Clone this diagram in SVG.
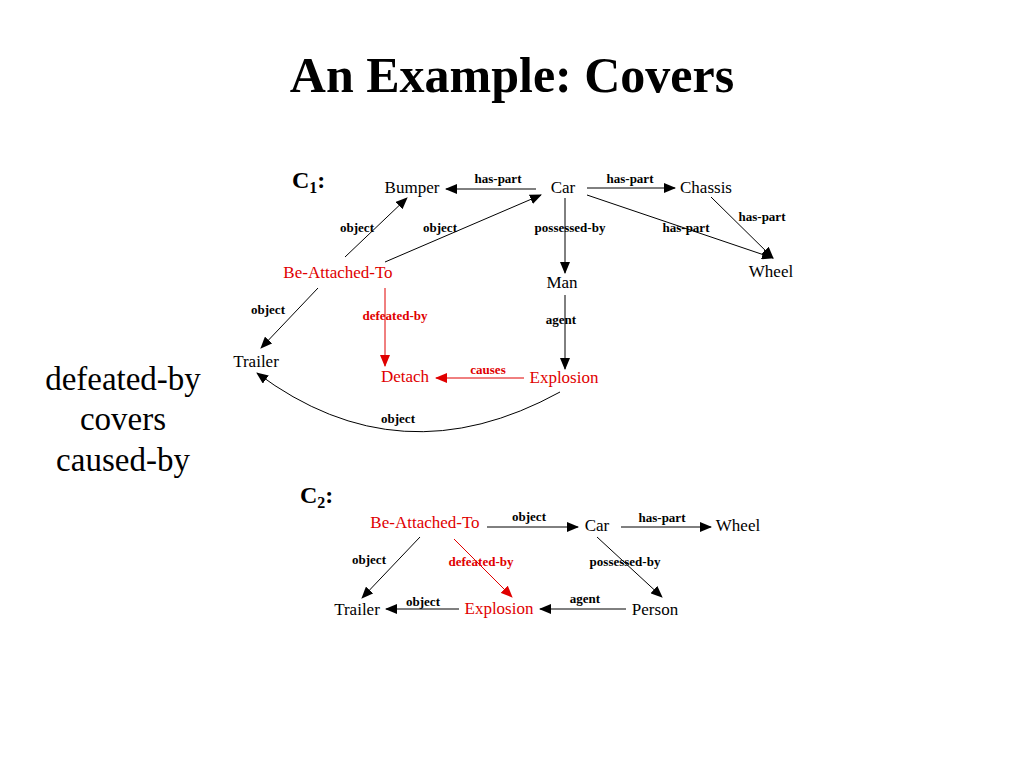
<svg xmlns="http://www.w3.org/2000/svg" width="1024" height="768" viewBox="0 0 1024 768">
<defs>
<marker id="ab" markerUnits="userSpaceOnUse" markerWidth="12" markerHeight="10" refX="11" refY="5" orient="auto"><path d="M0,0 L12,5 L0,10 Z" fill="#000"/></marker>
<marker id="ar" markerUnits="userSpaceOnUse" markerWidth="12" markerHeight="10" refX="11" refY="5" orient="auto"><path d="M0,0 L12,5 L0,10 Z" fill="#e00000"/></marker>
</defs>
<style>
text{font-family:"Liberation Serif","Times New Roman",serif}
.t{font-size:50px;font-weight:bold}
.s{font-size:33px}
.n{font-size:17px}
.r{fill:#e00000}
.l{font-size:13px;font-weight:bold}
.c{font-size:24px;font-weight:bold}
.e{stroke:#000;stroke-width:1;fill:none;marker-end:url(#ab)}
.er{stroke:#e00000;stroke-width:1;fill:none;marker-end:url(#ar)}
</style>
<rect width="1024" height="768" fill="#fff"/>
<text class="t" x="512" y="92" text-anchor="middle">An Example: Covers</text>
<g id="side" class="s" text-anchor="middle">
<text x="123" y="390">defeated-by</text>
<text x="123" y="430">covers</text>
<text x="123" y="471">caused-by</text>
</g>
<text class="c" x="292" y="188">C<tspan font-size="16" dy="5">1</tspan><tspan dy="-5">:</tspan></text>
<text class="c" x="300" y="503">C<tspan font-size="16" dy="5">2</tspan><tspan dy="-5">:</tspan></text>
<g id="connectors">
<line class="e" x1="536" y1="189" x2="446" y2="189"/>
<line class="e" x1="587" y1="188" x2="675" y2="188"/>
<line class="e" x1="587" y1="195" x2="773" y2="258"/>
<line class="e" x1="711" y1="197" x2="773" y2="258"/>
<line class="e" x1="345" y1="257" x2="407" y2="198"/>
<line class="e" x1="385" y1="262" x2="541" y2="195"/>
<line class="e" x1="565" y1="198" x2="565" y2="273"/>
<line class="e" x1="318" y1="288" x2="261" y2="348"/>
<line class="er" x1="385" y1="288" x2="385" y2="366"/>
<line class="e" x1="565" y1="295" x2="565" y2="369"/>
<line class="er" x1="524" y1="378" x2="436" y2="378"/>
<path class="e" d="M560 392 Q400 480 257 373"/>
<line class="e" x1="487" y1="527" x2="578" y2="527"/>
<line class="e" x1="621" y1="527" x2="711" y2="527"/>
<line class="e" x1="597" y1="537" x2="662" y2="597"/>
<line class="e" x1="626" y1="609" x2="540" y2="609"/>
<line class="e" x1="459" y1="609" x2="386" y2="609"/>
<line class="e" x1="420" y1="537" x2="362" y2="598"/>
<line class="er" x1="454" y1="539" x2="512" y2="597"/>
</g>
<g id="edge-labels" class="l" text-anchor="middle">
<text x="498" y="183">has-part</text>
<text x="630" y="183">has-part</text>
<text x="686" y="232">has-part</text>
<text x="762" y="221">has-part</text>
<text x="357" y="232">object</text>
<text x="440" y="232">object</text>
<text x="570" y="232">possessed-by</text>
<text x="268" y="314">object</text>
<text class="r" x="395" y="320">defeated-by</text>
<text x="561" y="324">agent</text>
<text class="r" x="488" y="374">causes</text>
<text x="398" y="423">object</text>
<text x="529" y="521">object</text>
<text x="662" y="522">has-part</text>
<text x="625" y="566">possessed-by</text>
<text x="585" y="603">agent</text>
<text x="423" y="606">object</text>
<text x="369" y="564">object</text>
<text class="r" x="481" y="566">defeated-by</text>
</g>
<g id="c1-bumper"><text class="n" x="412" y="193" text-anchor="middle">Bumper</text></g>
<g id="c1-car"><text class="n" x="563" y="193" text-anchor="middle">Car</text></g>
<g id="c1-chassis"><text class="n" x="706" y="193" text-anchor="middle">Chassis</text></g>
<g id="c1-wheel"><text class="n" x="771" y="277" text-anchor="middle">Wheel</text></g>
<g id="c1-bat"><text class="n r" x="338" y="278" text-anchor="middle">Be-Attached-To</text></g>
<g id="c1-man"><text class="n" x="562" y="288" text-anchor="middle">Man</text></g>
<g id="c1-trailer"><text class="n" x="256" y="367" text-anchor="middle">Trailer</text></g>
<g id="c1-detach"><text class="n r" x="405" y="382" text-anchor="middle">Detach</text></g>
<g id="c1-explosion"><text class="n r" x="564" y="383" text-anchor="middle">Explosion</text></g>
<g id="c2-bat"><text class="n r" x="425" y="528" text-anchor="middle">Be-Attached-To</text></g>
<g id="c2-car"><text class="n" x="597" y="531" text-anchor="middle">Car</text></g>
<g id="c2-wheel"><text class="n" x="738" y="531" text-anchor="middle">Wheel</text></g>
<g id="c2-trailer"><text class="n" x="357" y="615" text-anchor="middle">Trailer</text></g>
<g id="c2-explosion"><text class="n r" x="499" y="614" text-anchor="middle">Explosion</text></g>
<g id="c2-person"><text class="n" x="655" y="615" text-anchor="middle">Person</text></g>
</svg>
